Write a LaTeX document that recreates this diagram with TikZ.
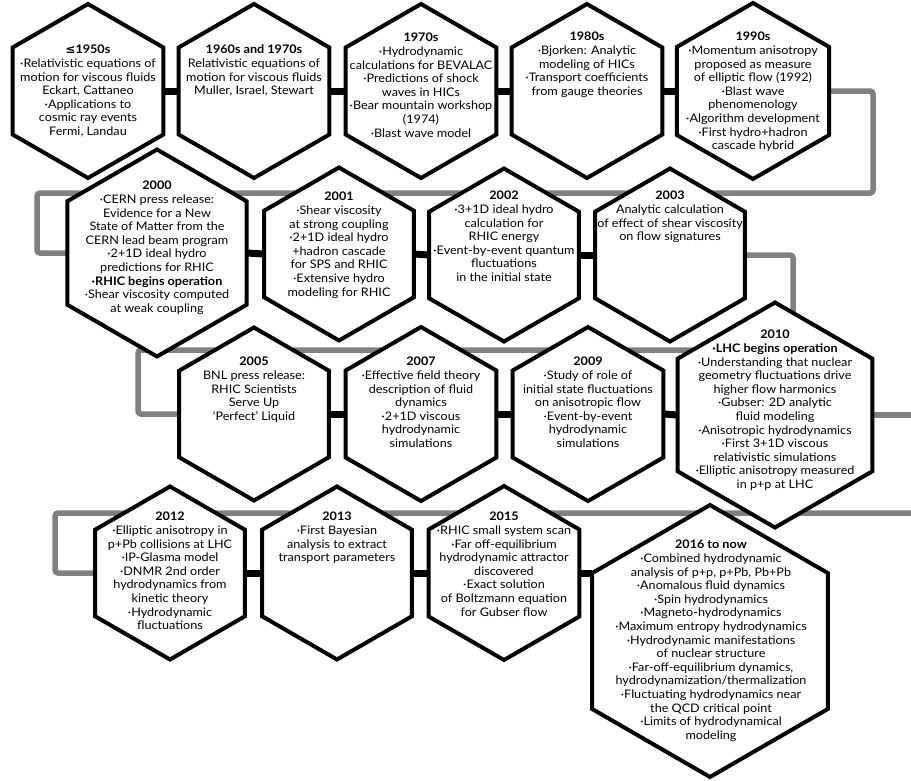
\documentclass[tikz,border=0pt]{standalone}
\usepackage{fontspec}
\setmainfont{Lato}[FakeStretch=1.07]
\newfontfamily\symb{DejaVu Sans}
\usetikzlibrary{shapes.geometric,backgrounds}
\definecolor{gristrait}{RGB}{128,128,128}
\newcommand{\bul}{\textperiodcentered}
\begin{document}
\begin{tikzpicture}[x=1pt,y=-1pt,
  hexa/.style={draw,line width=4pt,fill=white,regular polygon,regular polygon sides=6,shape border rotate=30,inner sep=0pt,outer sep=0pt,minimum size=#1},
  lien/.style={line width=7pt},
  gris/.style={gristrait,line width=5.5pt,rounded corners=3pt},
  txt/.style={anchor=north,align=center,inner sep=0pt,font=\fontsize{11.8}{13.6}\selectfont}]
\useasboundingbox (0,0) rectangle (911,780);
% hexagones
\node[hexa=174] (h1950) at (88,91) {}; %Rangee 1
\node[hexa=174] (h1960) at (254,91) {};
\node[hexa=174] (h1970) at (421,91) {};
\node[hexa=174] (h1980) at (587,91) {};
\node[hexa=176] (h1990) at (753,91) {};
\node[hexa=207] (h2000) at (157,253) {}; %Rangee 2
\node[hexa=173] (h2001) at (339,254) {};
\node[hexa=173] (h2002) at (504,255) {};
\node[hexa=173] (h2003) at (670,255) {};
\node[hexa=173] (h2005) at (254,414) {}; %Rangee 3
\node[hexa=174] (h2007) at (421,414) {};
\node[hexa=174] (h2009) at (588,414) {};
\node[hexa=225] (h2010) at (775,415) {};
\node[hexa=173] (h2012) at (170,573) {}; %Rangee 4
\node[hexa=173] (h2013) at (337,573) {};
\node[hexa=174] (h2015) at (504,573) {};
\node[hexa=272] (h2016) at (710,641) {};
\coordinate (bordA) at (911,415);
\coordinate (bordB) at (911,513);
% lignes grises derriere
\begin{scope}[on background layer]
\draw[gris] (h1990.east) -| (873,193) -- (37,193) |- (h2000.west); %Retour 1
\draw[gris] (h2003.east) -| (793,350) -- (138,350) |- (h2005.west); %Retour 2
\draw[gris,rounded corners=0pt] (h2010.east) -- (bordA); %Sortie droite
\draw[gris] (bordB) -- (55,513) |- (h2012.west); %Retour 3
\end{scope}
% liens noirs
\draw[lien] (h1950.east) -- (h1960.west); \draw[lien] (h1960.east) -- (h1970.west); \draw[lien] (h1970.east) -- (h1980.west); \draw[lien] (h1980.east) -- (h1990.west);
\draw[lien] (h2000.east) -- (h2001.west); \draw[lien] (h2001.east) -- (h2002.west); \draw[lien] (h2002.east) -- (h2003.west);
\draw[lien] (h2005.east) -- (h2007.west); \draw[lien] (h2007.east) -- (h2009.west); \draw[lien] (h2009.east) -- (h2010.west);
\draw[lien] (h2012.east) -- (h2013.west); \draw[lien] (h2013.east) -- (h2015.west); \draw[lien] (h2015.east) -- (h2015.east -| h2016.west);
% textes
\node[txt] (t1950) at (88,45) {\textbf{{\symb ≤}1950s}\\\bul Relativistic equations of\\motion for viscous fluids\\Eckart, Cattaneo\\\bul Applications to\\cosmic ray events\\Fermi, Landau};
\node[txt] (t1960) at (254,45) {\textbf{1960s and 1970s}\\Relativistic equations of\\motion for viscous fluids\\Muller, Israel, Stewart};
\node[txt] (t1970) at (421,33) {\textbf{1970s}\\\bul Hydrodynamic\\calculations for BEVALAC\\\bul Predictions of shock\\waves in HICs\\\bul Bear mountain workshop\\(1974)\\\bul Blast wave model};
\node[txt] (t1980) at (587,32) {\textbf{1980s}\\\bul Bjorken: Analytic\\modeling of HICs\\\bul Transport coefficients\\from gauge theories};
\node[txt] (t1990) at (753,32) {\textbf{1990s}\\\bul Momentum anisotropy\\proposed as measure\\of elliptic flow (1992)\\\bul Blast wave\\phenomenology\\\bul Algorithm development\\\bul First hydro+hadron\\cascade hybrid};
\node[txt] (t2000) at (157,181) {\textbf{2000}\\\bul CERN press release:\\Evidence for a New\\State of Matter from the\\CERN lead beam program\\\bul 2+1D ideal hydro\\predictions for RHIC\\\textbf{\bul RHIC begins operation}\\\bul Shear viscosity computed\\at weak coupling};
\node[txt] (t2001) at (339,192) {\textbf{2001}\\\bul Shear viscosity\\at strong coupling\\\bul 2+1D ideal hydro\\+hadron cascade\\for SPS and RHIC\\\bul Extensive hydro\\modeling for RHIC};
\node[txt] (t2002) at (504,191) {\textbf{2002}\\\bul 3+1D ideal hydro\\calculation for\\RHIC energy\\\bul Event-by-event quantum\\fluctuations\\in the initial state};
\node[txt] (t2003) at (670,191) {\textbf{2003}\\Analytic calculation\\of effect of shear viscosity\\on flow signatures};
\node[txt] (t2005) at (254,357) {\textbf{2005}\\BNL press release:\\RHIC Scientists\\Serve Up\\‘Perfect’ Liquid};
\node[txt] (t2007) at (421,357) {\textbf{2007}\\\bul Effective field theory\\description of fluid\\dynamics\\\bul 2+1D viscous\\hydrodynamic\\simulations};
\node[txt] (t2009) at (588,357) {\textbf{2009}\\\bul Study of role of\\initial state fluctuations\\on anisotropic flow\\\bul Event-by-event\\hydrodynamic\\simulations};
\node[txt] (t2010) at (775,330) {\textbf{2010}\\\textbf{\bul LHC begins operation}\\\bul Understanding that nuclear\\geometry fluctuations drive\\higher flow harmonics\\\bul Gubser: 2D analytic\\fluid modeling\\\bul Anisotropic hydrodynamics\\\bul First 3+1D viscous\\relativistic simulations\\\bul Elliptic anisotropy measured\\in p+p at LHC};
\node[txt] (t2012) at (170,512) {\textbf{2012}\\\bul Elliptic anisotropy in\\p+Pb collisions at LHC\\\bul IP-Glasma model\\\bul DNMR 2nd order\\hydrodynamics from\\kinetic theory\\\bul Hydrodynamic\\fluctuations};
\node[txt] (t2013) at (337,512) {\textbf{2013}\\\bul First Bayesian\\analysis to extract\\transport parameters};
\node[txt] (t2015) at (504,512) {\textbf{2015}\\\bul RHIC small system scan\\\bul Far off-equilibrium\\hydrodynamic attractor\\discovered\\\bul Exact solution\\of Boltzmann equation\\for Gubser flow};
\node[txt] (t2016) at (711,540) {\textbf{2016 to now}\\\bul Combined hydrodynamic\\analysis of p+p, p+Pb, Pb+Pb\\\bul Anomalous fluid dynamics\\\bul Spin hydrodynamics\\\bul Magneto-hydrodynamics\\\bul Maximum entropy hydrodynamics\\\bul Hydrodynamic manifestations\\of nuclear structure\\\bul Far-off-equilibrium dynamics,\\hydrodynamization/thermalization\\\bul Fluctuating hydrodynamics near\\the QCD critical point\\\bul Limits of hydrodynamical\\modeling};
\end{tikzpicture}
\end{document}
